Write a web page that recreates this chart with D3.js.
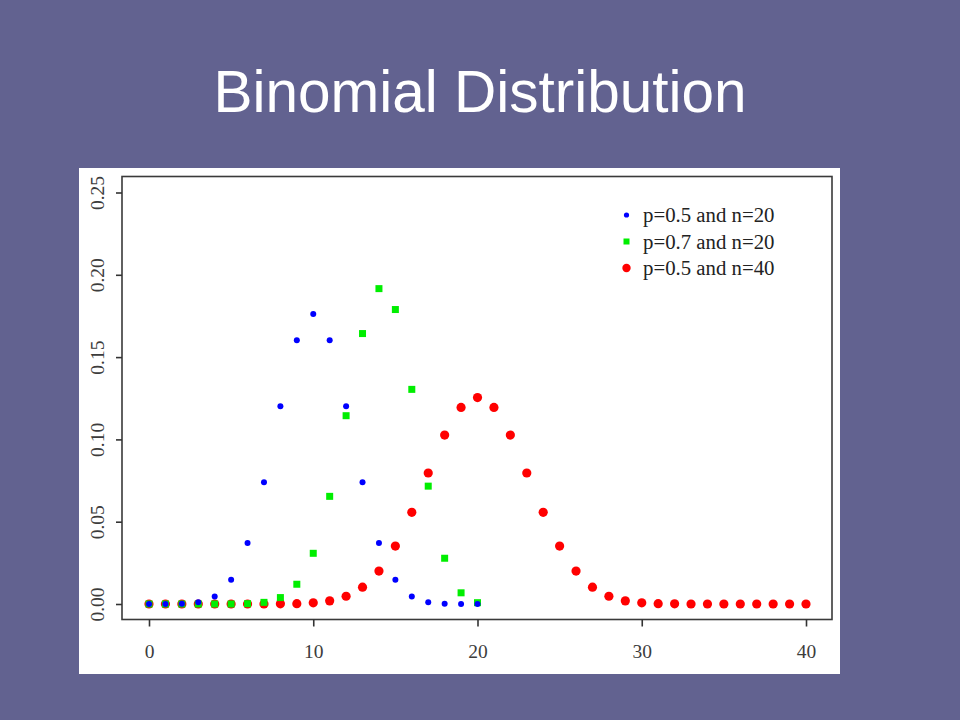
<!DOCTYPE html>
<html>
<head>
<meta charset="utf-8">
<script src="https://cdn.jsdelivr.net/npm/d3@7"></script>
<style>
  body { margin: 0; background: #626290; }
  svg { display: block; }
</style>
</head>
<body>
<script>
// successes k for n=20 and n=40
var k20 = [0, 1, 2, 3, 4, 5, 6, 7, 8, 9, 10, 11, 12, 13, 14, 15, 16, 17, 18, 19, 20];
var k40 = [0, 1, 2, 3, 4, 5, 6, 7, 8, 9, 10, 11, 12, 13, 14, 15, 16, 17, 18, 19, 20,
           21, 22, 23, 24, 25, 26, 27, 28, 29, 30, 31, 32, 33, 34, 35, 36, 37, 38, 39, 40];

// probabilities
var p05n20 = [0.0000, 0.0000, 0.0002, 0.0011, 0.0046, 0.0148, 0.0370, 0.0739, 0.1201, 0.1602, 0.1762,
              0.1602, 0.1201, 0.0739, 0.0370, 0.0148, 0.0046, 0.0011, 0.0002, 0.0000, 0.0000];
var p07n20 = [0.0000, 0.0000, 0.0000, 0.0000, 0.0000, 0.0000, 0.0002, 0.0010, 0.0039, 0.0120, 0.0308,
              0.0654, 0.1144, 0.1643, 0.1916, 0.1789, 0.1304, 0.0716, 0.0278, 0.0068, 0.0008];
var p05n40 = [0.0000, 0.0000, 0.0000, 0.0000, 0.0000, 0.0000, 0.0000, 0.0000, 0.0001, 0.0002, 0.0007,
              0.0019, 0.0047, 0.0102, 0.0200, 0.0352, 0.0557, 0.0796, 0.1026, 0.1194, 0.1254,
              0.1194, 0.1026, 0.0796, 0.0557, 0.0352, 0.0200, 0.0102, 0.0047, 0.0019, 0.0007,
              0.0002, 0.0001, 0.0000, 0.0000, 0.0000, 0.0000, 0.0000, 0.0000, 0.0000, 0.0000];

var xTicks = [0, 10, 20, 30, 40];
var yTicks = [0, 0.05, 0.10, 0.15, 0.20, 0.25];
var legendLabels = ["p=0.5 and n=20", "p=0.7 and n=20", "p=0.5 and n=40"];

var svg = d3.select("body").append("svg")
  .attr("width", 960)
  .attr("height", 720);

svg.append("rect")
  .attr("width", 960).attr("height", 720)
  .attr("fill", "#626290");

// slide title
svg.append("text")
  .attr("x", 480).attr("y", 112)
  .attr("text-anchor", "middle")
  .attr("fill", "#fff")
  .style("font-family", "Liberation Sans, Arial, sans-serif")
  .style("font-size", "58.5px")
  .text("Binomial Distribution");

// white picture panel
svg.append("rect")
  .attr("x", 79).attr("y", 168)
  .attr("width", 761).attr("height", 506)
  .attr("fill", "#fff");

var x = d3.scaleLinear().domain([0, 40]).range([149, 806]);
var y = d3.scaleLinear().domain([0, 0.25]).range([604, 192.5]);

// plot box
svg.append("rect")
  .attr("x", 122).attr("y", 176.5)
  .attr("width", 710).attr("height", 443)
  .attr("fill", "none")
  .attr("stroke", "#3a3a3a")
  .attr("stroke-width", 1.6);

var serif = "Liberation Serif, Times New Roman, serif";

var xAxis = svg.append("g")
  .attr("transform", "translate(0,619.5)")
  .call(d3.axisBottom(x).tickValues(xTicks).tickSize(7).tickPadding(18).tickFormat(d3.format("d")));
xAxis.select(".domain").remove();

var yAxis = svg.append("g")
  .attr("transform", "translate(122,0)")
  .call(d3.axisLeft(y).tickValues(yTicks).tickSize(6).tickFormat(d3.format(".2f")));
yAxis.select(".domain").remove();
yAxis.selectAll("text")
  .attr("transform", "rotate(-90)")
  .attr("x", 0)
  .attr("y", -24.5)
  .attr("dy", "0.35em")
  .attr("text-anchor", "middle");

svg.selectAll(".tick line").attr("stroke", "#333").attr("stroke-width", 1.6);
svg.selectAll(".tick text")
  .attr("fill", "#3c3c3c")
  .style("font-family", serif)
  .style("font-size", "19.5px");

// points: red first, then green squares, blue dots on top
svg.append("g").selectAll("circle")
  .data(k40)
  .enter().append("circle")
  .attr("cx", function(d) { return x(d); })
  .attr("cy", function(d, i) { return y(p05n40[i]); })
  .attr("r", 4.6)
  .attr("fill", "#ff0000");

svg.append("g").selectAll("rect")
  .data(k20)
  .enter().append("rect")
  .attr("x", function(d) { return x(d) - 3.5; })
  .attr("y", function(d, i) { return y(p07n20[i]) - 3.5; })
  .attr("width", 7).attr("height", 7)
  .attr("fill", "#00ee00");

svg.append("g").selectAll("circle")
  .data(k20)
  .enter().append("circle")
  .attr("cx", function(d) { return x(d); })
  .attr("cy", function(d, i) { return y(p05n20[i]); })
  .attr("r", 3)
  .attr("fill", "#0000ff");

// legend
var legend = svg.append("g").attr("transform", "translate(626.5,215)");
var rowH = 26.5;

legend.append("circle").attr("cx", 0).attr("cy", 0).attr("r", 2.6).attr("fill", "#0000ff");
legend.append("rect").attr("x", -3).attr("y", rowH - 3).attr("width", 6).attr("height", 6).attr("fill", "#00ee00");
legend.append("circle").attr("cx", 0).attr("cy", 2 * rowH).attr("r", 4.2).attr("fill", "#ff0000");

legend.selectAll("text")
  .data(legendLabels)
  .enter().append("text")
  .attr("x", 16.5)
  .attr("y", function(d, i) { return i * rowH; })
  .attr("dy", "0.35em")
  .attr("fill", "#222")
  .style("font-family", serif)
  .style("font-size", "20.8px")
  .text(function(d) { return d; });
</script>
</body>
</html>
